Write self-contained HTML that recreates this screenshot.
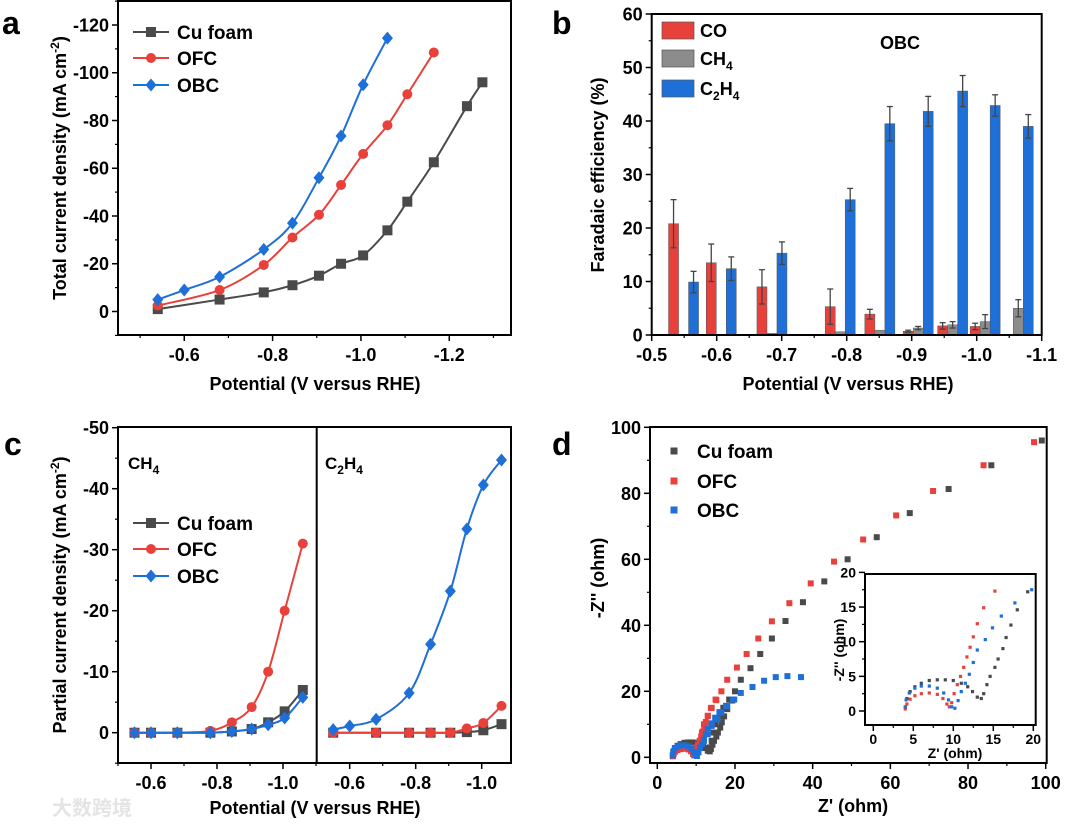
<!DOCTYPE html>
<html><head><meta charset="utf-8"><style>
html,body{margin:0;padding:0;background:#fff}
svg{display:block;font-family:"Liberation Sans","Noto Sans CJK SC",sans-serif;font-weight:bold}
</style></head><body>
<svg id="fig" width="1080" height="824" viewBox="0 0 1080 824">
<g id="static">
<text x="2" y="34" font-size="32">a</text>
<text x="552" y="34" font-size="32">b</text>
<text x="4" y="455" font-size="32">c</text>
<text x="552" y="455" font-size="32">d</text>
<text transform="translate(66,168) rotate(-90)" text-anchor="middle" font-size="18">Total current density  (mA cm<tspan dy="-7" font-size="12">-2</tspan><tspan dy="7">)</tspan></text>
<text x="315" y="390" text-anchor="middle" font-size="18">Potential (V versus RHE)</text>
<text transform="translate(604,175) rotate(-90)" text-anchor="middle" font-size="18">Faradaic efficiency (%)</text>
<text x="848" y="390" text-anchor="middle" font-size="18">Potential (V versus RHE)</text>
<text transform="translate(66,595) rotate(-90)" text-anchor="middle" font-size="18">Partial current density  (mA cm<tspan dy="-7" font-size="12">-2</tspan><tspan dy="7">)</tspan></text>
<text x="315" y="814" text-anchor="middle" font-size="18">Potential (V versus RHE)</text>
<text transform="translate(604,578) rotate(-90)" text-anchor="middle" font-size="18">-Z'' (ohm)</text>
<text x="853" y="812" text-anchor="middle" font-size="18">Z' (ohm)</text>
<text x="880" y="49" font-size="18">OBC</text>
<text x="128" y="469" font-size="17">CH<tspan dy="5" font-size="12">4</tspan></text>
<text x="325" y="469" font-size="17">C<tspan dy="5" font-size="12">2</tspan><tspan dy="-5">H</tspan><tspan dy="5" font-size="12">4</tspan></text>
<text x="52" y="815" font-size="20" fill="#e4e4e4" font-family="'Noto Sans CJK SC',sans-serif">大数跨境</text>
</g>
<g id="dyn"></g>
</svg>
<script>
// ---------- Panel a data ----------
const aCuX=[-0.54,-0.68,-0.78,-0.845,-0.905,-0.955,-1.005,-1.06,-1.105,-1.165,-1.24,-1.275];
const aCuY=[1,5,8,11,15,20,23.5,34,46,62.5,86,96];
const aOfcX=[-0.54,-0.68,-0.78,-0.845,-0.905,-0.955,-1.005,-1.06,-1.105,-1.165];
const aOfcY=[2.5,9,19.5,31,40.5,53,66,78,91,108.5];
const aObcX=[-0.54,-0.6,-0.68,-0.78,-0.845,-0.905,-0.955,-1.005,-1.06];
const aObcY=[5,9,14.5,26,37,56,73.5,95,114.5];
const aYTicks=[0,20,40,60,80,100,120];
const aXTicks=[-0.6,-0.8,-1.0,-1.2];
// ---------- Panel b data ----------
const bPot=[-0.549,-0.607,-0.685,-0.79,-0.851,-0.91,-0.963,-1.013,-1.064];
const bCO=[20.8,13.5,9,5.3,3.9,0.7,1.7,1.6,0];
const bCOerr=[4.5,3.5,3.2,3.3,0.9,0.2,0.6,0.6,0];
const bCH4=[0,0,0.3,0.6,0.9,1.3,1.9,2.5,5];
const bCH4err=[0,0,0,0,0,0.3,0.6,1.3,1.6];
const bC2H4=[9.9,12.4,15.3,25.3,39.5,41.8,45.6,42.9,39];
const bC2H4err=[2,2.2,2.1,2.1,3.2,2.8,2.9,2.0,2.2];
const bYTicks=[0,10,20,30,40,50,60];
const bXTicks=[-0.5,-0.6,-0.7,-0.8,-0.9,-1.0,-1.1];
// ---------- Panel c data ----------
const cPot=[-0.55,-0.6,-0.68,-0.78,-0.845,-0.905,-0.955,-1.005,-1.06];
const cCH4Cu=[0,0,0,0,0.2,0.6,1.7,3.5,7];
const cCH4Ofc=[0,0,0,0.3,1.7,4.2,10,20,31];
const cCH4Obc=[0,0,0,0,0.2,0.6,1.3,2.4,5.8];
const cC2Pot=[-0.55,-0.68,-0.78,-0.845,-0.905,-0.955,-1.005,-1.06];
const cC2Cu=[0,0,0,0,0,0.1,0.4,1.4];
const cC2Ofc=[0,0,0,0,0,0.7,1.6,4.4];
const cC2Obc=[0.5,1.1,2.2,6.5,14.5,23.2,33.4,40.6,44.7];
const cC2ObcPot=[-0.55,-0.6,-0.68,-0.78,-0.845,-0.905,-0.955,-1.005,-1.06];
const cYTicks=[0,10,20,30,40,50];
const cXTicks=[-0.6,-0.8,-1.0];
// ---------- Panel d data ----------
const dCuZr=[4,4.2,4.6,5.2,6,7,8,9,10,11,11.8,12.4,13,13.5,13.8,14.2,14.6,15.2,15.6,16.2,16.6,17.2,18,19.3,13.5,14,14.5,15,16,17,18.5,20,21.5,24,26.5,29.5,33,37.5,43,49,56.5,65,75,86,99];
const dCuZi=[0.5,1.8,2.8,3.5,4,4.4,4.5,4.5,4.4,4,3.5,2.8,2,1.8,2.5,3.8,5,6.3,7.5,9,10.6,12.4,14.6,17.2,3,5,7.5,10,12.5,15,17.5,20,23.5,27,31.3,36,41.3,47,53.3,60,66.7,74,81.3,88.5,96];
const dOfcZr=[4,4.2,4.6,5.2,6,7,8,8.7,9.2,9.5,9.8,10.1,10.5,10.9,11.3,11.7,12.1,12.5,13,13.8,15.2,10,11,11.5,12,13,14,15,16.5,18,20.5,23,26,29.5,34,39.5,45.5,53,61.5,71,84,97];
const dOfcZi=[0.3,1,1.7,2.2,2.5,2.6,2.4,1.8,1,0.6,1.2,2.5,3.8,5,6.3,7.8,9.2,10.7,12.6,14.9,17.3,3,5,7.5,10,12.5,15,17.5,20,23.5,27.2,31.3,36,41.2,46.7,52.7,59.3,66,73.3,80.7,88.5,95.5];
const dObcZr=[4,4.1,4.5,5.2,6,7,8,8.8,9.4,9.8,10.2,10.6,11,11.5,12,12.5,13,14,14.9,16,17.7,19.8,11,12,13,14,15.5,16.5,18,19.5,21.5,24.5,27.5,30.5,33.5,37];
const dObcZi=[0.6,1.6,2.6,3.3,3.6,3.6,3.3,2.6,1.6,0.6,0.4,1.5,2.8,4,5.3,7,8.8,10.3,12,13.7,15.6,17.5,3,5,7,9.5,11.5,13.5,15.5,17.5,19.5,21.3,23.2,24.3,24.6,24.3];
const dTicks=[0,20,40,60,80,100];
const dInsetTicks=[0,5,10,15,20];

const NS='http://www.w3.org/2000/svg';
const G=document.getElementById('dyn');
function el(tag,attrs,parent){const e=document.createElementNS(NS,tag);for(const k in attrs)e.setAttribute(k,attrs[k]);(parent||G).appendChild(e);return e;}
const GRAY='#4a4a4a',RED='#e8413c',BLUE='#1f6fd8',LGRAY='#8c8c8c';

function smoothPath(pts){
  let d='M'+pts[0][0]+','+pts[0][1];
  for(let i=0;i<pts.length-1;i++){
    const p0=pts[i-1]||pts[i],p1=pts[i],p2=pts[i+1],p3=pts[i+2]||p2;
    const c1=[p1[0]+(p2[0]-p0[0])/6,p1[1]+(p2[1]-p0[1])/6];
    const c2=[p2[0]-(p3[0]-p1[0])/6,p2[1]-(p3[1]-p1[1])/6];
    d+=' C'+c1[0]+','+c1[1]+' '+c2[0]+','+c2[1]+' '+p2[0]+','+p2[1];
  }
  return d;
}
function marker(kind,x,y,color,s,name){
  let m;
  if(kind==='sq') m=el('rect',{x:x-s,y:y-s,width:2*s,height:2*s,fill:color});
  else if(kind==='ci') m=el('circle',{cx:x,cy:y,r:s,fill:color});
  else m=el('polygon',{points:`${x},${y-s*1.3} ${x+s*1.1},${y} ${x},${y+s*1.3} ${x-s*1.1},${y}`,fill:color});
  
  
  return m;
}
function series(xs,ys,fx,fy,color,kind,s,name,smooth){
  const pts=xs.map((v,i)=>[fx(v),fy(ys[i])]);
  const p=el('path',{d:smooth?smoothPath(pts):'M'+pts.map(q=>q.join(',')).join(' L'),fill:'none',stroke:color,'stroke-width':2});
  
  
  pts.forEach(q=>marker(kind,q[0],q[1],color,s,name+'-point'));
}
function frame(x1,y1,x2,y2,name){
  const r=el('rect',{x:x1,y:y1,width:x2-x1,height:y2-y1,fill:'none',stroke:'#000','stroke-width':2});
  
  
}
function yAxis(ticks,minor,fy,x,label,fs,name){
  ticks.forEach(t=>{
    el('line',{x1:x,x2:x-6,y1:fy(t),y2:fy(t),stroke:'#000','stroke-width':1.5});
    const tx=el('text',{x:x-9,y:fy(t)+fs*0.36,'text-anchor':'end','font-size':fs});
    tx.textContent=label(t);
    
    
  });
  minor.forEach(t=>el('line',{x1:x,x2:x-3,y1:fy(t),y2:fy(t),stroke:'#000','stroke-width':1.2}));
}
function xAxis(ticks,minor,fx,y,label,fs,name,gap){
  const g=gap===undefined?8:gap;
  ticks.forEach(t=>{
    el('line',{x1:fx(t),x2:fx(t),y1:y,y2:y+6,stroke:'#000','stroke-width':1.5});
    const tx=el('text',{x:fx(t),y:y+fs+g,'text-anchor':'middle','font-size':fs});
    tx.textContent=label(t);
    
    
  });
  minor.forEach(t=>el('line',{x1:fx(t),x2:fx(t),y1:y,y2:y+3,stroke:'#000','stroke-width':1.2}));
}
function legendLine(x,y,color,kind,s,text,name){
  const l=el('line',{x1:x,x2:x+36,y1:y,y2:y,stroke:color,'stroke-width':2});
  
  
  marker(kind,x+18,y,color,s,name+'-marker');
  const t=el('text',{x:x+44,y:y+7,'font-size':19});
  t.textContent=text;
  
  
}
const neg=t=>t===0?'0':'-'+t;
const fmt1=t=>t.toFixed(1);

// ===== Panel a =====
const xa=v=>118+(-0.45-v)*441.7, ya=j=>311.5-j*2.3875;
series(aCuX,aCuY,xa,ya,GRAY,'sq',5,'a-cu-foam',true);
series(aOfcX,aOfcY,xa,ya,RED,'ci',5,'a-ofc',true);
series(aObcX,aObcY,xa,ya,BLUE,'di',5,'a-obc',true);
frame(118,1,511,335,'a-plot-frame');
yAxis(aYTicks,[10,30,50,70,90,110,130,-10],ya,118,neg,18,'a-y');
xAxis(aXTicks,[-0.5,-0.7,-0.9,-1.1,-1.3],xa,335,fmt1,18,'a-x');
legendLine(133,32,GRAY,'sq',5,'Cu foam','a-legend-cu-foam');
legendLine(133,58,RED,'ci',5,'OFC','a-legend-ofc');
legendLine(133,85,BLUE,'di',5,'OBC','a-legend-obc');

// ===== Panel b =====
const xb=v=>651.7+(-0.5-v)*650, yb=f=>335-f*5.35, BW=10;
function bars(vals,errs,off,color,name){
  vals.forEach((v,i)=>{
    const cx=xb(bPot[i])+off;
    if(v>0){
      const r=el('rect',{x:cx-BW/2,y:yb(v),width:BW,height:yb(0)-yb(v),fill:color,stroke:'#555','stroke-width':0.5});
      
      
    }
    if(errs[i]>0){
      el('line',{x1:cx,x2:cx,y1:yb(v-errs[i]),y2:yb(v+errs[i]),stroke:'#444','stroke-width':1.3});
      el('line',{x1:cx-3,x2:cx+3,y1:yb(v+errs[i]),y2:yb(v+errs[i]),stroke:'#444','stroke-width':1.3});
      el('line',{x1:cx-3,x2:cx+3,y1:yb(v-errs[i]),y2:yb(v-errs[i]),stroke:'#444','stroke-width':1.3});
    }
  });
}
bars(bCO,bCOerr,-10,RED,'b-co');
bars(bCH4,bCH4err,0,LGRAY,'b-ch4');
bars(bC2H4,bC2H4err,10,BLUE,'b-c2h4');
frame(651.7,14,1041.7,335,'b-plot-frame');
yAxis(bYTicks,[5,15,25,35,45,55],yb,651.7,t=>''+t,18,'b-y');
xAxis(bXTicks,[-0.55,-0.65,-0.75,-0.85,-0.95,-1.05],xb,335,fmt1,18,'b-x');
[['CO',RED,22,'b-legend-co'],['CH',LGRAY,50,'b-legend-ch4'],['C',BLUE,80,'b-legend-c2h4']].forEach(([t,c,y,n])=>{
  const r=el('rect',{x:662,y:y,width:32,height:17,fill:c,stroke:'#555','stroke-width':0.7});
  
  
  const tx=el('text',{x:700,y:y+15,'font-size':18});
  
  
  if(t==='CO') tx.textContent='CO';
  else if(t==='CH') tx.innerHTML='CH<tspan dy="5" font-size="12">4</tspan>';
  else tx.innerHTML='C<tspan dy="5" font-size="12">2</tspan><tspan dy="-5">H</tspan><tspan dy="5" font-size="12">4</tspan>';
});

// ===== Panel c =====
const xcl=v=>118+(-0.5-v)*330, xcr=v=>316.7+(-0.5-v)*330, yc=j=>732.7-j*6.1;
series(cPot,cCH4Cu,xcl,yc,GRAY,'sq',5,'c-ch4-cu-foam',true);
series(cPot,cCH4Ofc,xcl,yc,RED,'ci',5,'c-ch4-ofc',true);
series(cPot,cCH4Obc,xcl,yc,BLUE,'di',5,'c-ch4-obc',true);
series(cC2Pot,cC2Cu,xcr,yc,GRAY,'sq',5,'c-c2h4-cu-foam',true);
series(cC2Pot,cC2Ofc,xcr,yc,RED,'ci',5,'c-c2h4-ofc',true);
series(cC2ObcPot,cC2Obc,xcr,yc,BLUE,'di',5,'c-c2h4-obc',true);
frame(118,427,511,763,'c-plot-frame');
el('line',{x1:316.7,x2:316.7,y1:427,y2:763,stroke:'#000','stroke-width':2});
yAxis(cYTicks,[5,15,25,35,45,-5],yc,118,neg,18,'c-y');
xAxis(cXTicks,[-0.5,-0.7,-0.9,-1.1],xcl,763,fmt1,18,'c-left-x');
xAxis(cXTicks,[-0.7,-0.9],xcr,763,fmt1,18,'c-right-x');
legendLine(133,523,GRAY,'sq',5,'Cu foam','c-legend-cu-foam');
legendLine(133,549,RED,'ci',5,'OFC','c-legend-ofc');
legendLine(133,576,BLUE,'di',5,'OBC','c-legend-obc');

// ===== Panel d =====
const xd=z=>657.3+z*3.884, yd=z=>757.3-z*3.3;
function scatter(xs,ys,fx,fy,color,s,name){
  xs.forEach((v,i)=>marker('sq',fx(v),fy(ys[i]),color,s,name));
}
scatter(dCuZr,dCuZi,xd,yd,GRAY,3,'d-cu-foam-point');
scatter(dOfcZr,dOfcZi,xd,yd,RED,3,'d-ofc-point');
scatter(dObcZr,dObcZi,xd,yd,BLUE,3,'d-obc-point');
frame(650,427,1046.7,763,'d-plot-frame');
yAxis(dTicks,[10,30,50,70,90],yd,650,t=>''+t,18,'d-y');
xAxis(dTicks,[10,30,50,70,90],xd,763,t=>''+t,18,'d-x');
[['Cu foam',GRAY,451,'d-legend-cu-foam'],['OFC',RED,481,'d-legend-ofc'],['OBC',BLUE,510,'d-legend-obc']].forEach(([t,c,y,n])=>{
  marker('sq',674,y,c,3.5,n+'-marker');
  const tx=el('text',{x:697,y:y+7,'font-size':19});
  tx.textContent=t;
  
  
});
// inset
const xi=z=>873.3+z*8, yi=z=>711-z*6.93;
el('rect',{x:865,y:574,width:170.7,height:151,fill:'#fff'});
scatter(dCuZr.slice(0,24),dCuZi.slice(0,24),xi,yi,GRAY,1.6,'inset-cu-foam-point');
scatter(dOfcZr.slice(0,21),dOfcZi.slice(0,21),xi,yi,RED,1.6,'inset-ofc-point');
scatter(dObcZr.slice(0,22),dObcZi.slice(0,22),xi,yi,BLUE,1.6,'inset-obc-point');
frame(865,574,1035.7,725,'inset-frame');
yAxis(dInsetTicks,[2.5,7.5,12.5,17.5],yi,865,t=>''+t,14,'inset-y');
xAxis(dInsetTicks,[2.5,7.5,12.5,17.5],xi,725,t=>''+t,14,'inset-x',5);
const it=el('text',{x:955,y:758,'text-anchor':'middle','font-size':14});
it.textContent="Z' (ohm)";


const iy=el('text',{transform:'translate(844,650) rotate(-90)','text-anchor':'middle','font-size':14});
iy.textContent="-Z'' (ohm)";


</script>
</body></html>
